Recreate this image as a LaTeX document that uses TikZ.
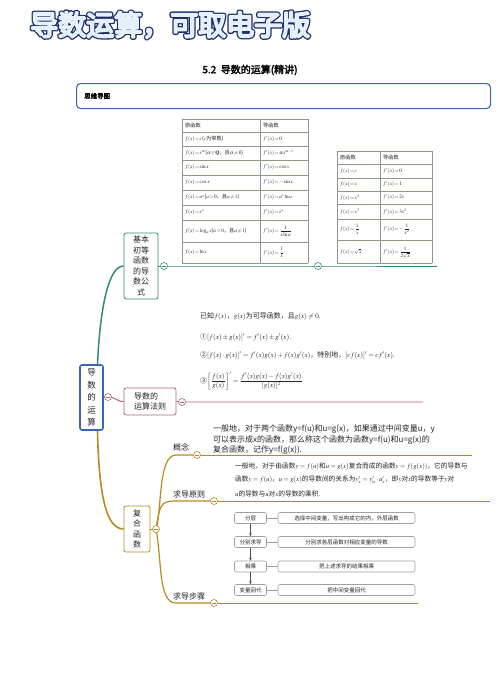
\documentclass[tikz,border=0pt]{standalone}
\usepackage{amsmath,amssymb}
\usepackage{mathptmx}
\usepackage[no-math]{fontspec}
\setmainfont{Noto Sans CJK SC}[AutoFakeBold=2.5]
\newfontfamily\titlefont{Noto Sans CJK SC}
\usetikzlibrary{arrows.meta,calc}
\definecolor{tealb}{HTML}{2F8A78}
\definecolor{redb}{HTML}{B0646E}
\definecolor{goldb}{HTML}{B58A1E}
\definecolor{blueb}{HTML}{3A68B0}
\definecolor{tabline}{HTML}{8C9A84}
\definecolor{navy}{HTML}{1F2F6B}
\definecolor{titlefill}{HTML}{E6EFF9}
\definecolor{txt}{HTML}{222222}
\newcommand{\strokedtext}[3]{\special{pdf:literal direct 2 Tr #1 w 1 j #2 RG}#3\special{pdf:literal direct 0 Tr}}
\newcommand{\tightmath}{\thickmuskip=2mu\relax\medmuskip=1mu\relax}
\begin{document}
\begin{tikzpicture}[x=1pt,y=-1pt,
  tc/.style={font=\fontsize{5.2}{6}\selectfont\tightmath, anchor=west, inner sep=0, text=txt},
  circ/.style={circle, draw=#1, fill=white, line width=0.6pt, inner sep=0, minimum size=7pt,
    path picture={\draw[#1, line width=0.5pt] ([xshift=1.5pt]path picture bounding box.west) -- ([xshift=-1.5pt]path picture bounding box.east);}},
  vnode/.style={draw=#1, fill=white, rounded corners=2pt, line width=0.8pt, align=center, inner sep=0, text=txt},
  fbox/.style={draw=gray!75, fill=white, rounded corners=2pt, line width=0.6pt, inner sep=0, minimum height=11pt, font=\fontsize{5.5}{6}\selectfont, text=txt},
  para/.style={anchor=west, inner sep=0, text=txt},
  blabel/.style={inner sep=0, font=\fontsize{8}{9}\selectfont, text=txt}
]
\useasboundingbox (0,0) rectangle (500,693);
% title
\node[text=titlefill, font=\fontsize{28}{28}\titlefont, anchor=west, inner sep=0] (title) at (30,25)
  {\rlap{\color{navy}\strokedtext{4.6}{0.12 0.18 0.42}{导数运算，可取电子版}}\strokedtext{2.0}{0.90 0.94 0.98}{导数运算，可取电子版}};
\node[font=\fontsize{10}{11}\selectfont\bfseries, inner sep=0] (sub) at (250,70) {5.2\ \ 导数的运算(精讲)};
% header box
\node[draw=blueb, rounded corners=4pt, line width=1.1pt, minimum width=414pt, minimum height=25pt, anchor=north west, inner sep=0] (hdr) at (76,83) {};
\node[font=\fontsize{6.5}{7}\selectfont\bfseries, anchor=west, inner sep=0] (hdrt) at (84,96) {思维导图};

% table 1
\foreach \yy in {119,132,146,160,175,190,205,220,242,263} \draw[tabline, line width=0.7pt] (182,\yy) -- (308,\yy);
\foreach \xx in {182,260,308} \draw[tabline, line width=0.7pt] (\xx,119) -- (\xx,263);
\node[tc] (a0) at (185,125.5) {原函数};
\node[tc] (b0) at (263,125.5) {导函数};
\node[tc] (a1) at (185,139) {$f(x)=c$($c$为常数)};
\node[tc] (b1) at (263,139) {$f'(x)=0$};
\node[tc] (a2) at (185,153) {$f(x)=x^{\alpha}$($\alpha\in\mathbf{Q}$，且$\alpha\neq0$)};
\node[tc] (b2) at (263,153) {$f'(x)=\alpha x^{\alpha-1}$};
\node[tc] (a3) at (185,167.5) {$f(x)=\sin x$};
\node[tc] (b3) at (263,167.5) {$f'(x)=\cos x$};
\node[tc] (a4) at (185,182.5) {$f(x)=\cos x$};
\node[tc] (b4) at (263,182.5) {$f'(x)=-\sin x$};
\node[tc] (a5) at (185,197.5) {$f(x)=a^x$($a>0$，且$a\neq1$)};
\node[tc] (b5) at (263,197.5) {$f'(x)=a^x\ln a$};
\node[tc] (a6) at (185,212.5) {$f(x)=e^x$};
\node[tc] (b6) at (263,212.5) {$f'(x)=e^x$};
\node[tc] (a7) at (185,231) {$f(x)=\log_a x$($a>0$，且$a\neq1$)};
\node[tc] (b7) at (263,231) {$f'(x)=\dfrac{1}{x\ln a}$};
\node[tc] (a8) at (185,252.5) {$f(x)=\ln x$};
\node[tc] (b8) at (263,252.5) {$f'(x)=\dfrac{1}{x}$};

% table 2
\foreach \yy in {151,164,178,191,204,219,240,263} \draw[tabline, line width=0.7pt] (337,\yy) -- (432,\yy);
\foreach \xx in {337,380,432} \draw[tabline, line width=0.7pt] (\xx,151) -- (\xx,263);
\node[tc] (c0) at (340,157.5) {原函数};
\node[tc] (d0) at (383,157.5) {导函数};
\node[tc] (c1) at (340,171) {$f(x)=c$};
\node[tc] (d1) at (383,171) {$f'(x)=0$};
\node[tc] (c2) at (340,184.5) {$f(x)=x$};
\node[tc] (d2) at (383,184.5) {$f'(x)=1$};
\node[tc] (c3) at (340,197.5) {$f(x)=x^2$};
\node[tc] (d3) at (383,197.5) {$f'(x)=2x$};
\node[tc] (c4) at (340,211.5) {$f(x)=x^3$};
\node[tc] (d4) at (383,211.5) {$f'(x)=3x^2$};
\node[tc] (c5) at (340,229) {$f(x)=\dfrac{1}{x}$};
\node[tc] (d5) at (383,229) {$f'(x)=-\dfrac{1}{x^2}$};
\node[tc] (c6) at (340,252) {$f(x)=\sqrt{x}$};
\node[tc] (d6) at (383,252.5) {$f'(x)=\dfrac{1}{2\sqrt{x}}$};

% nodes
\node[vnode=blueb, line width=1.6pt, minimum width=23pt, minimum height=65pt, font=\fontsize{8.5}{12.5}\selectfont] (root) at (91.5,397.5) {导\\数\\的\\运\\算};
\node[vnode=tealb, minimum width=34pt, minimum height=66pt, font=\fontsize{8}{10.5}\selectfont] (base) at (141,266) {基本\\初等\\函数\\的导\\数公\\式};
\node[vnode=redb, minimum width=52pt, minimum height=27pt, font=\fontsize{8}{10}\selectfont, align=left] (rule) at (150,401.5) {导数的\\运算法则};
\node[vnode=goldb, minimum width=26pt, minimum height=46pt, font=\fontsize{8}{10.5}\selectfont] (comp) at (137,529) {复\\合\\函\\数};

% circle positions
\coordinate (k0) at (108,397);
\coordinate (k1) at (164,266);
\coordinate (k2) at (318,266);
\coordinate (k3) at (182,402);
\coordinate (k4) at (156,529);
\coordinate (k5) at (197,455);
\coordinate (k6) at (214,501);
\coordinate (k7) at (214,603);
\coordinate (e1) at (437,266);
\coordinate (e3) at (423,402);
\coordinate (e5) at (472,455);
\coordinate (e6) at (490,501);
\coordinate (e7) at (418,603);

% connectors
\draw[tealb, line width=1.5pt] ($(root.north)+(6,0)$) .. controls (100,310) and (108,266) .. (base.west);
\draw[tealb, line width=0.9pt] (base.east) -- (k1) -- (k2) -- (e1);
\draw[redb, line width=1pt] (root.east) -- (k0) .. controls (116,397) and (116,401.5) .. (rule.west);
\draw[redb, line width=0.9pt] (rule.east) -- (k3) -- (e3);
\draw[goldb, line width=1.6pt] ($(root.south)+(6,0)$) .. controls (99,495) and (106,529) .. (comp.west);
\draw[goldb, line width=0.9pt] (comp.east) -- (k4);
\draw[goldb, line width=1.2pt] (k4) .. controls (162,510) and (158,455) .. (176,455) -- (k5);
\draw[goldb, line width=0.9pt] (k5) -- (e5);
\draw[goldb, line width=1.2pt] (k4) .. controls (160,505) and (160,501) .. (176,501) -- (k6);
\draw[goldb, line width=0.9pt] (k6) -- (e6);
\draw[goldb, line width=1.2pt] (k4) .. controls (162,560) and (158,603) .. (176,603) -- (k7);
\draw[goldb, line width=0.9pt] (k7) -- (e7);
% circles on top
\node[circ=redb] (n0) at (k0) {};
\node[circ=tealb] (n1) at (k1) {};
\node[circ=tealb] (n2) at (k2) {};
\node[circ=redb] (n3) at (k3) {};
\node[circ=goldb] (n4) at (k4) {};
\node[circ=goldb] (n5) at (k5) {};
\node[circ=goldb] (n6) at (k6) {};
\node[circ=goldb] (n7) at (k7) {};

% branch labels
\node[blabel] (l5) at (181,447) {概念};
\node[blabel] (l6) at (189,494) {求导原则};
\node[blabel] (l7) at (189,596) {求导步骤};

% formulas
\begin{scope}[font=\fontsize{7}{8}\selectfont]
\node[para] (f0) at (200,316) {已知$f(x)$，$g(x)$为可导函数，且$g(x)\neq0$.};
\node[para] (f1) at (200,337) {①$[f(x)\pm g(x)]'=f'(x)\pm g'(x)$.};
\node[para] (f2) at (200,355) {②$[f(x)\cdot g(x)]'=f'(x)g(x)+f(x)g'(x)$，特别地，$[cf(x)]'=cf'(x)$.};
\node[para] (f3) at (200,381) {③$\left[\dfrac{f(x)}{g(x)}\right]'=\dfrac{f'(x)g(x)-f(x)g'(x)}{[g(x)]^2}$};
\end{scope}

% concept
\begin{scope}[font=\fontsize{8}{9}\selectfont]
\node[para] (p1) at (213,429) {一般地，对于两个函数y=f(u)和u=g(x)，如果通过中间变量u，y};
\node[para] (p2) at (213,440) {可以表示成x的函数，那么称这个函数为函数y=f(u)和u=g(x)的};
\node[para] (p3) at (213,450.5) {复合函数，记作y=f(g(x)).};
\end{scope}
% rule
\begin{scope}[font=\fontsize{6.7}{7}\selectfont]
\node[para] (q1) at (235,466) {一般地，对于由函数$y=f(u)$和$u=g(x)$复合而成的函数$y=f(g(x))$，它的导数与};
\node[para] (q2) at (235,480) {函数$y=f(u)$，$u=g(x)$的导数间的关系为$y'_x=y'_u\cdot u'_x$，即$y$对$x$的导数等于$y$对};
\node[para] (q3) at (235,494) {$u$的导数与$u$对$x$的导数的乘积.};
\end{scope}

% flow
\node[fbox, minimum width=32pt] (s1) at (250.5,518) {分层};
\node[fbox, minimum width=32pt] (s2) at (250.5,542) {分别求导};
\node[fbox, minimum width=32pt] (s3) at (250.5,566.5) {相乘};
\node[fbox, minimum width=32pt] (s4) at (250.5,590) {变量回代};
\node[fbox, minimum width=137pt] (r1) at (346.5,518) {选择中间变量，写出构成它的内，外层函数};
\node[fbox, minimum width=137pt] (r2) at (346.5,542) {分别求各层函数对相应变量的导数};
\node[fbox, minimum width=137pt] (r3) at (346.5,566.5) {把上述求导的结果相乘};
\node[fbox, minimum width=137pt] (r4) at (346.5,590) {把中间变量回代};
\foreach \i in {1,2,3,4} \draw[gray!75, line width=0.6pt] (s\i.east) -- (r\i.west);
\draw[-{Stealth[length=3pt,width=2.5pt]}, gray!60!black, line width=0.5pt] (s1) -- (s2);
\draw[-{Stealth[length=3pt,width=2.5pt]}, gray!60!black, line width=0.5pt] (s2) -- (s3);
\draw[-{Stealth[length=3pt,width=2.5pt]}, gray!60!black, line width=0.5pt] (s3) -- (s4);
\end{tikzpicture}
\end{document}
